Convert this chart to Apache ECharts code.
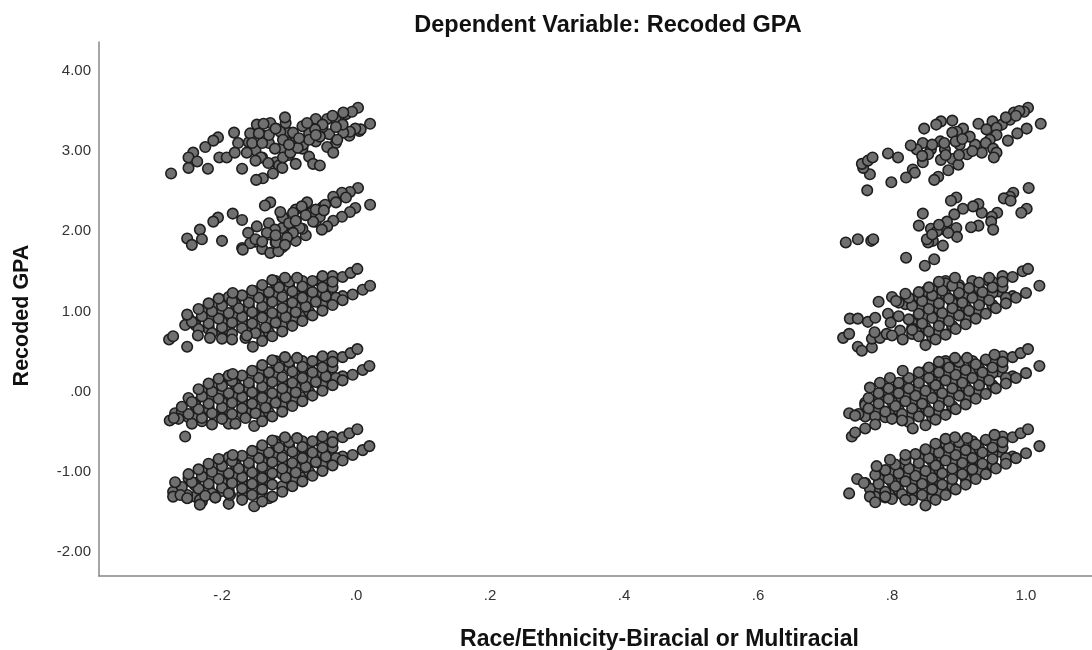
<!DOCTYPE html>
<html><head><meta charset="utf-8">
<style>html,body{margin:0;padding:0;background:#fff}#c{width:1092px;height:650px}</style>
<script src="https://cdn.jsdelivr.net/npm/echarts@6/dist/echarts.min.js"></script></head>
<body><div id="c"></div>
<script>
const xTicks=[-0.2,0,0.2,0.4,0.6,0.8,1.0];
const xTickLabels=['-.2','.0','.2','.4','.6','.8','1.0'];
const yTicks=[-2,-1,0,1,2,3,4];
const yTickLabels=['-2.00','-1.00','.00','1.00','2.00','3.00','4.00'];

const leftExtraLow=[[-.19,-1.4],[-.16,-1.27],[-.13,-1.14],[-.10,-1.01],[-.07,-.88],[-.04,-.75],
[-.23,-1.37],[-.2,-1.24],[-.17,-1.11],[-.14,-.98],[-.11,-.86],[-.08,-.73],[-.055,-.62],
[-.25,-1.32],[-.22,-1.19],[-.19,-1.06],[-.16,-.93],[-.13,-.8],[-.1,-.67],
[-.27,-1.27],[-.24,-1.14],[-.21,-1.01],[-.18,-.88],[-.15,-.75],[-.12,-.62],
[-.14,-1.32],[-.11,-1.2],[-.08,-1.07],[-.05,-.94],[-.02,-.81],[-.23,-1.0],[-.2,-.86]];
const leftExtraZero=[[-.19,-.40],[-.16,-.27],[-.13,-.14],[-.10,-.01],[-.07,.12],[-.04,.25],
[-.23,-.37],[-.2,-.24],[-.17,-.11],[-.14,.02],[-.11,.14],[-.08,.27],[-.055,.38],
[-.25,-.32],[-.22,-.19],[-.19,-.06],[-.16,.07],[-.13,.2],[-.1,.33],
[-.27,-.27],[-.24,-.14],[-.21,-.01],[-.18,.12],[-.15,.25],[-.12,.38],
[-.14,-.32],[-.11,-.2],[-.08,-.07],[-.05,.06],[-.02,.19],[-.23,0],[-.2,.14]];
const leftExtraOne=[[-.16,.73],[-.13,.86],[-.10,.99],[-.07,1.12],[-.04,1.25],
[-.2,.76],[-.17,.89],[-.14,1.02],[-.11,1.14],[-.08,1.27],[-.055,1.38],
[-.22,.81],[-.19,.94],[-.16,1.07],[-.13,1.2],[-.1,1.33],
[-.24,.86],[-.21,.99],[-.18,1.12],[-.15,1.25],[-.12,1.38],
[-.14,.68],[-.11,.8],[-.08,.93],[-.05,1.06],[-.02,1.19],[-.23,1.0],[-.2,1.14]];
const rightExtraLow=[[.84,-1.27],[.87,-1.14],[.9,-1.01],[.93,-.88],[.96,-.75],
[.8,-1.24],[.83,-1.11],[.86,-.98],[.89,-.86],[.92,-.73],[.945,-.62],
[.78,-1.19],[.81,-1.06],[.84,-.93],[.87,-.8],[.9,-.67],
[.76,-1.14],[.79,-1.01],[.82,-.88],[.85,-.75],[.88,-.62],
[.86,-1.32],[.89,-1.2],[.92,-1.07],[.95,-.94],[.98,-.81]];
const rightExtraZero=[[.84,-.27],[.87,-.14],[.9,-.01],[.93,.12],[.96,.25],
[.8,-.24],[.83,-.11],[.86,.02],[.89,.14],[.92,.27],[.945,.38],
[.78,-.19],[.81,-.06],[.84,.07],[.87,.2],[.9,.33],
[.76,-.14],[.79,-.01],[.82,.12],[.85,.25],[.88,.38],
[.86,-.32],[.89,-.2],[.92,-.07],[.95,.06],[.98,.19]];
const rightExtraOne=[[.84,.73],[.87,.86],[.9,.99],[.93,1.12],[.96,1.25],
[.83,.89],[.86,1.02],[.89,1.14],[.92,1.27],[.945,1.38],
[.84,1.07],[.87,1.2],[.9,1.33],[.85,1.25],[.88,1.38],
[.86,.68],[.89,.8],[.92,.93],[.95,1.06],[.98,1.19]];

const leftFillLow=[[-.13,-1.33],[-.11,-1.18],[-.09,-1.09],[-.07,-1.0],[-.05,-.92],[-.03,-.83],
[-.17,-1.28],[-.15,-1.2],[-.13,-1.11],[-.11,-1.03],[-.09,-.94],[-.07,-.85],[-.05,-.77],[-.035,-.70],
[-.21,-1.32],[-.19,-1.23],[-.17,-1.14],[-.15,-1.06],[-.13,-.97],[-.11,-.89],[-.09,-.8],[-.07,-.71],[-.05,-.63],[-.035,-.56],
[-.24,-1.31],[-.22,-1.22],[-.2,-1.13],[-.18,-1.05],[-.16,-.96],[-.14,-.87],[-.12,-.79],[-.10,-.7],[-.08,-.62],
[-.26,-1.25],[-.24,-1.17],[-.22,-1.08],[-.2,-.99],[-.18,-.91],[-.16,-.82],[-.14,-.73],[-.12,-.65],
[-.25,-1.08],[-.23,-.99],[-.21,-.91],[-.19,-.82]];
const leftFillZero=[[-.13,-.26],[-.11,-.18],[-.09,-.09],[-.07,0],[-.05,.08],[-.03,.17],
[-.17,-.28],[-.15,-.2],[-.13,-.11],[-.11,-.03],[-.09,.06],[-.07,.15],[-.05,.23],[-.035,.3],
[-.21,-.32],[-.19,-.23],[-.17,-.14],[-.15,-.06],[-.13,.03],[-.11,.11],[-.09,.2],[-.07,.29],[-.05,.37],[-.035,.44],
[-.24,-.31],[-.22,-.22],[-.2,-.13],[-.18,-.05],[-.16,.04],[-.14,.13],[-.12,.21],[-.10,.3],[-.08,.38],
[-.26,-.25],[-.24,-.17],[-.22,-.08],[-.2,.01],[-.18,.09],[-.16,.18],[-.14,.27],[-.12,.35],
[-.25,-.08],[-.23,.01],[-.21,.09],[-.19,.18]];
const leftFillOne=[[-.13,.74],[-.11,.82],[-.09,.91],[-.07,1.0],[-.05,1.08],[-.03,1.17],
[-.15,.8],[-.13,.89],[-.11,.97],[-.09,1.06],[-.07,1.15],[-.05,1.23],[-.035,1.3],
[-.19,.77],[-.17,.86],[-.15,.94],[-.13,1.03],[-.11,1.11],[-.09,1.2],[-.07,1.29],[-.05,1.37],[-.035,1.44],
[-.22,.78],[-.2,.87],[-.18,.95],[-.16,1.04],[-.14,1.13],[-.12,1.21],[-.10,1.3],[-.08,1.38],
[-.24,.83],[-.22,.92],[-.2,1.01],[-.18,1.09],[-.16,1.18],[-.14,1.27],[-.12,1.35],
[-.25,.92],[-.23,1.01],[-.21,1.09],[-.19,1.18]];
const leftFillTwo=[[-.11,1.8],[-.09,1.88],[-.075,1.95],[-.17,1.79],[-.15,1.87],[-.13,1.96],[-.11,2.04],[-.09,2.13],[-.07,2.22],[-.05,2.30],[-.03,2.39],
[-.14,1.78],[-.12,1.86],[-.1,1.95],[-.08,2.03],[-.06,2.12],[-.13,2.1],[-.11,2.18],[-.09,2.27]];
const leftFillThree=[[-.12,2.86],[-.1,2.95],[-.08,3.03],[-.06,3.12],[-.04,3.21],[-.14,2.92],[-.11,3.04],[-.09,3.13],[-.07,3.22],[-.05,3.30],[-.03,3.39],[-.015,3.46],
[-.09,2.84],[-.07,2.93],[-.03,3.10],[-.01,3.19],[.005,3.25],[-.15,3.01],[-.13,3.10],[-.1,3.23],[-.08,3.31],[-.06,3.4],[-.16,3.11],[-.14,3.2],[-.12,3.28],[-.105,3.35]];
const rightFillLow=[[.87,-1.26],[.89,-1.18],[.91,-1.09],[.93,-1.0],[.95,-.92],[.97,-.83],
[.83,-1.28],[.85,-1.2],[.87,-1.11],[.89,-1.03],[.91,-.94],[.93,-.85],[.95,-.77],[.965,-.70],
[.79,-1.32],[.81,-1.23],[.83,-1.14],[.85,-1.06],[.87,-.97],[.89,-.89],[.91,-.8],[.93,-.71],[.95,-.63],[.965,-.56],
[.78,-1.22],[.8,-1.13],[.82,-1.05],[.84,-.96],[.86,-.87],[.88,-.79],[.9,-.7],[.92,-.62],
[.78,-1.08],[.8,-.99],[.82,-.91],[.84,-.82],[.86,-.73],[.88,-.65]];
const rightFillZero=[[.87,-.26],[.89,-.18],[.91,-.09],[.93,0],[.95,.08],[.97,.17],
[.83,-.28],[.85,-.2],[.87,-.11],[.89,-.03],[.91,.06],[.93,.15],[.95,.23],[.965,.30],
[.79,-.32],[.81,-.23],[.83,-.14],[.85,-.06],[.87,.03],[.89,.11],[.91,.2],[.93,.29],[.95,.37],[.965,.44],
[.76,-.31],[.78,-.22],[.8,-.13],[.82,-.05],[.84,.04],[.86,.13],[.88,.21],[.9,.3],[.92,.38],
[.76,-.17],[.78,-.08],[.8,.01],[.82,.09],[.84,.18],[.86,.27],[.88,.35]];
const rightFillOne=[[.87,.74],[.89,.82],[.91,.91],[.93,1.0],[.95,1.08],[.97,1.17],
[.83,.72],[.85,.8],[.87,.89],[.89,.97],[.91,1.06],[.93,1.15],[.95,1.23],[.965,1.30],
[.83,.86],[.85,.94],[.87,1.03],[.89,1.11],[.91,1.2],[.93,1.29],[.95,1.37],[.965,1.44],
[.84,1.04],[.86,1.13],[.88,1.21],[.9,1.3],[.92,1.38],[.82,1.09],[.84,1.18],[.86,1.27],[.88,1.35]];

const leftBandLow=[[-.152,-1.43],[-.14,-1.37],[-.125,-1.31],[-.11,-1.25],[-.095,-1.18],[-.08,-1.12],[-.065,-1.05],[-.05,-.99],[-.035,-.92],[-.02,-.86],[-.005,-.79],[.01,-.73],[.02,-.68],
[-.17,-1.35],[-.155,-1.29],[-.14,-1.22],[-.125,-1.16],[-.105,-1.07],[-.09,-1.01],[-.075,-.94],[-.06,-.88],[-.045,-.81],
[-.188,-1.29],[-.17,-1.21],[-.155,-1.15],[-.14,-1.08],[-.125,-1.02],[-.11,-.96],[-.095,-.89],[-.08,-.83],[-.065,-.76],[-.05,-.70],[-.035,-.63],[-.02,-.57],[-.01,-.52],[.002,-.47],
[-.233,-1.35],[-.215,-1.27],[-.2,-1.2],[-.185,-1.14],[-.17,-1.07],[-.155,-1.01],[-.14,-.94],[-.125,-.88],[-.11,-.82],[-.095,-.75],[-.08,-.69],[-.065,-.62],[-.05,-.56],
[-.252,-1.29],[-.235,-1.21],[-.22,-1.15],[-.205,-1.09],[-.19,-1.02],[-.175,-.96],[-.16,-.89],[-.145,-.83],[-.13,-.76],[-.115,-.7],[-.1,-.63],[-.088,-.58],
[-.273,-1.25],[-.26,-1.19],[-.245,-1.13],[-.23,-1.06],[-.215,-1.0],[-.2,-.93],[-.185,-.87],[-.17,-.80],[-.155,-.74],[-.14,-.67],[-.125,-.61],[-.106,-.57],
[-.27,-1.13],[-.25,-1.03],[-.235,-.97],[-.22,-.9],[-.205,-.84],[-.184,-.79],
[-.273,-1.31],[-.262,-1.29],[-.252,-1.33],[-.233,-1.41],[-.225,-1.3],[-.21,-1.32],[-.19,-1.27]];

const leftBandZero=[[-.152,-.43],[-.14,-.37],[-.125,-.31],[-.11,-.25],[-.095,-.18],[-.08,-.12],[-.065,-.05],[-.05,.01],[-.035,.08],[-.02,.14],[-.005,.21],[.01,.27],[.02,.32],
[-.18,-.40],[-.165,-.33],[-.15,-.27],[-.135,-.20],[-.12,-.14],[-.105,-.07],[-.09,-.01],[-.075,.06],[-.06,.12],[-.045,.19],
[-.215,-.41],[-.2,-.34],[-.185,-.28],[-.17,-.21],[-.155,-.15],[-.14,-.08],[-.125,-.02],[-.11,.04],[-.095,.11],[-.08,.17],[-.065,.24],[-.05,.30],[-.035,.37],[-.02,.43],[-.008,.48],[.002,.53],
[-.245,-.40],[-.23,-.33],[-.215,-.27],[-.2,-.20],[-.185,-.14],[-.17,-.07],[-.155,-.01],[-.14,.06],[-.125,.12],[-.11,.18],[-.095,.25],[-.08,.31],[-.065,.38],[-.05,.44],
[-.265,-.34],[-.25,-.28],[-.235,-.22],[-.22,-.15],[-.205,-.09],[-.19,-.02],[-.175,.04],[-.16,.11],[-.145,.17],[-.13,.24],[-.115,.30],[-.10,.37],[-.088,.42],
[-.278,-.36],[-.272,-.33],[-.26,-.19],[-.245,-.13],[-.23,-.06],[-.215,0],[-.20,.07],[-.185,.13],[-.17,.20],[-.155,.26],[-.14,.33],[-.125,.39],[-.106,.43],
[-.235,.03],[-.22,.10],[-.205,.16],[-.19,.2],[-.184,.22],[-.255,-.56]];

const leftBandOne=[[-.154,.56],[-.14,.63],[-.125,.69],[-.11,.75],[-.095,.82],[-.08,.88],[-.065,.95],[-.05,1.01],[-.035,1.08],[-.02,1.14],[-.005,1.21],[.01,1.27],[.021,1.32],
[-.165,.67],[-.15,.73],[-.135,.8],[-.12,.86],[-.105,.93],[-.09,.99],[-.075,1.06],[-.06,1.12],[-.045,1.19],
[-.2,.66],[-.185,.72],[-.17,.79],[-.155,.85],[-.14,.92],[-.125,.98],[-.11,1.04],[-.095,1.11],[-.08,1.17],[-.065,1.24],[-.05,1.3],[-.035,1.37],[-.02,1.43],[-.008,1.48],[.002,1.53],
[-.215,.73],[-.2,.8],[-.185,.86],[-.17,.93],[-.155,.99],[-.14,1.06],[-.125,1.12],[-.11,1.18],[-.095,1.25],[-.08,1.31],[-.065,1.38],[-.05,1.44],
[-.235,.78],[-.22,.85],[-.205,.91],[-.19,.98],[-.175,1.04],[-.16,1.11],[-.145,1.17],[-.13,1.24],[-.115,1.3],[-.1,1.37],[-.088,1.42],
[-.255,.83],[-.245,.87],[-.23,.94],[-.215,1.0],[-.2,1.07],[-.185,1.13],[-.17,1.2],[-.155,1.26],[-.14,1.33],[-.125,1.39],[-.106,1.42],
[-.252,.96],[-.235,1.03],[-.22,1.1],[-.205,1.16],[-.184,1.23],
[-.279,.65],[-.273,.69],[-.252,.56],[-.236,.70],[-.218,.67],[-.185,.65],[-.163,.7]];

const leftBandTwo=[[.003,2.54],[-.009,2.49],[-.021,2.48],[-.034,2.43],[-.046,2.33],[.021,2.33],[-.001,2.29],[-.009,2.24],[-.021,2.18],[-.034,2.13],[-.043,2.06],[-.051,2.02],[-.054,2.18],[-.066,2.23],[-.073,2.36],[-.081,2.31],[-.094,2.23],[-.109,2.17],[-.113,2.24],[-.128,2.36],[-.136,2.32],[-.064,2.12],[-.084,2.04],[-.094,1.98],[-.103,1.92],[-.121,2.02],[-.133,1.98],[-.148,2.06],[-.161,1.98],[-.158,1.85],[-.169,1.77],[-.128,1.73],[-.116,1.75],[-.119,1.86],[-.106,1.83],[-.206,2.17],[-.213,2.12],[-.184,2.22],[-.17,2.14],[-.233,2.02],[-.23,1.9],[-.252,1.91],[-.245,1.83],[-.2,1.88],[-.15,1.9],[-.14,1.87],[-.12,1.95],[-.1,2.1],[-.09,2.13],[-.075,2.2],[-.06,2.27],[-.048,2.26],[-.03,2.36],[-.015,2.42]];

const leftBandThree=[[.003,3.54],[-.006,3.49],[-.019,3.48],[.021,3.34],[.007,3.27],[-.001,3.28],[-.009,3.24],[-.019,3.23],[-.028,3.14],[-.043,3.40],[-.035,3.44],[-.05,3.33],[-.061,3.27],[-.073,3.35],[-.054,3.18],[-.043,3.05],[-.034,2.98],[-.079,3.08],[-.094,3.23],[-.113,3.24],[-.106,3.42],[-.128,3.35],[-.148,3.33],[-.138,3.34],[-.158,3.22],[-.182,3.23],[-.176,3.10],[-.155,3.10],[-.14,3.10],[-.121,3.03],[-.094,3.03],[-.109,3.14],[-.206,3.17],[-.213,3.13],[-.225,3.05],[-.243,2.98],[-.25,2.92],[-.237,2.87],[-.25,2.79],[-.221,2.78],[-.276,2.72],[-.204,2.92],[-.193,2.92],[-.181,2.98],[-.163,2.98],[-.142,2.92],[-.17,2.78],[-.15,2.88],[-.131,2.85],[-.115,2.82],[-.124,2.72],[-.139,2.66],[-.149,2.64],[-.109,2.92],[-.098,2.98],[-.087,3.04],[-.064,2.84],[-.054,2.82],[-.11,2.79],[-.07,3.14],[-.06,3.2],[-.085,3.16],[-.1,3.08],[-.13,3.2],[-.12,3.28],[-.145,3.22],[-.02,3.33],[-.03,3.3]];

const rightBandLow=[[.85,-1.42],[.865,-1.35],[.88,-1.29],[.895,-1.22],[.91,-1.16],[.925,-1.09],[.94,-1.03],[.955,-.96],[.97,-.9],[.985,-.83],[1.0,-.77],[1.02,-.68],
[.83,-1.35],[.845,-1.29],[.86,-1.22],[.875,-1.16],[.89,-1.09],[.905,-1.03],[.92,-.97],[.935,-.9],[.95,-.84],
[.8,-1.34],[.815,-1.28],[.83,-1.21],[.845,-1.15],[.86,-1.08],[.875,-1.02],[.89,-.96],[.905,-.89],[.92,-.83],[.935,-.76],[.95,-.70],[.965,-.63],[.98,-.57],[.992,-.52],[1.003,-.47],
[.775,-1.31],[.79,-1.25],[.805,-1.18],[.82,-1.12],[.835,-1.05],[.85,-.99],[.865,-.92],[.88,-.86],[.895,-.79],[.91,-.73],[.925,-.66],[.94,-.6],[.953,-.54],
[.767,-1.21],[.78,-1.15],[.795,-1.09],[.81,-1.02],[.825,-.96],[.84,-.89],[.855,-.83],[.87,-.76],[.885,-.70],[.9,-.63],[.912,-.58],
[.775,-1.04],[.79,-.98],[.805,-.91],[.82,-.85],[.835,-.78],[.85,-.72],[.865,-.65],[.88,-.59],[.894,-.57],
[.736,-1.27],[.748,-1.09],[.758,-1.14],[.777,-.93],[.797,-.85],[.82,-.79],[.767,-1.31],[.775,-1.38],[.79,-1.31],[.82,-1.35]];

const rightBandZero=[[.85,-.42],[.865,-.35],[.88,-.29],[.895,-.22],[.91,-.16],[.925,-.09],[.94,-.03],[.955,.04],[.97,.1],[.985,.17],[1.0,.23],[1.02,.32],
[.825,-.38],[.84,-.31],[.855,-.25],[.87,-.18],[.885,-.12],[.9,-.05],[.915,.01],[.93,.08],[.945,.14],
[.8,-.34],[.815,-.28],[.83,-.21],[.845,-.15],[.86,-.08],[.875,-.02],[.89,.04],[.905,.11],[.92,.17],[.935,.24],[.95,.3],[.965,.37],[.98,.43],[.992,.48],[1.003,.53],
[.775,-.31],[.79,-.25],[.805,-.18],[.82,-.12],[.835,-.05],[.85,.01],[.865,.08],[.88,.14],[.895,.21],[.91,.27],[.925,.34],[.94,.4],[.953,.46],
[.75,-.28],[.765,-.21],[.78,-.15],[.795,-.09],[.81,-.02],[.825,.04],[.84,.11],[.855,.17],[.87,.24],[.885,.3],[.9,.37],[.912,.42],
[.765,-.08],[.78,-.02],[.795,.04],[.81,.11],[.825,.17],[.84,.24],[.855,.3],[.87,.37],[.894,.42],
[.767,.05],[.782,.11],[.797,.17],[.816,.26],
[.74,-.56],[.736,-.27],[.745,-.3],[.76,-.46],[.775,-.41],[.745,-.51],[.831,-.46],[.815,-.36]];

const rightBandOne=[[.85,.58],[.865,.65],[.88,.71],[.895,.78],[.91,.84],[.925,.91],[.94,.97],[.955,1.04],[.97,1.10],[.985,1.17],[1.0,1.23],[1.02,1.32],
[.84,.69],[.855,.75],[.87,.82],[.885,.88],[.90,.95],[.915,1.01],[.93,1.08],[.945,1.14],
[.83,.79],[.845,.85],[.86,.92],[.875,.98],[.89,1.04],[.905,1.11],[.92,1.17],[.935,1.24],[.95,1.30],[.965,1.37],[.98,1.43],[.995,1.50],[1.003,1.53],
[.825,.90],[.84,.97],[.855,1.03],[.87,1.10],[.885,1.16],[.90,1.23],[.915,1.29],[.93,1.36],[.945,1.42],
[.83,1.07],[.845,1.13],[.86,1.20],[.875,1.26],[.89,1.32],[.894,1.42],[.81,1.11],[.825,1.17],[.84,1.24],[.855,1.30],[.87,1.37],
[.727,.67],[.736,.72],[.737,.91],[.749,.91],[.764,.87],[.775,.92],[.78,1.12],[.80,1.18],[.806,1.13],[.82,1.22],[.794,.97],[.749,.56],[.755,.51],[.77,.55],[.77,.66],[.782,.67],[.792,.72],[.812,.76],[.816,.65],[.83,.77],[.798,.86],[.81,.94],[.774,.74],[.8,.7]];

const rightBandTwo=[[1.004,2.54],[.981,2.48],[.976,2.43],[.967,2.41],[.977,2.38],[1.001,2.28],[.993,2.23],[.957,2.23],[.949,2.18],[.948,2.12],[.951,2.02],[.934,2.23],[.929,2.34],[.921,2.31],[.929,2.07],[.918,2.05],[.906,2.28],[.896,2.42],[.888,2.38],[.893,2.21],[.846,2.22],[.84,2.07],[.858,2.03],[.879,2.02],[.896,2.04],[.897,1.93],[.882,2.12],[.884,1.98],[.867,2.0],[.876,1.82],[.861,1.88],[.854,1.86],[.852,1.9],[.731,1.86],[.749,1.9],[.769,1.88],[.772,1.9],[.821,1.67],[.863,1.65],[.849,1.57],[.87,2.08],[.86,1.96]];

const rightBandThree=[[1.003,3.54],[.997,3.49],[.982,3.48],[1.022,3.34],[1.001,3.28],[.987,3.22],[.973,3.13],[.976,3.39],[.964,3.33],[.95,3.37],[.929,3.34],[.941,3.27],[.956,3.29],[.956,3.20],[.946,3.14],[.94,3.10],[.951,3.03],[.956,2.98],[.952,2.92],[.934,2.98],[.924,3.08],[.916,3.18],[.912,2.96],[.906,3.28],[.897,3.24],[.89,3.23],[.89,3.38],[.873,3.37],[.866,3.33],[.848,3.28],[.872,3.12],[.901,3.08],[.879,3.02],[.858,3.02],[.846,3.10],[.837,3.02],[.828,3.07],[.854,2.96],[.873,2.89],[.89,2.90],[.899,2.83],[.884,2.76],[.869,2.68],[.863,2.64],[.846,2.86],[.831,2.77],[.834,2.73],[.821,2.67],[.799,2.61],[.763,2.51],[.767,2.71],[.757,2.79],[.755,2.84],[.764,2.88],[.771,2.92],[.794,2.97],[.809,2.92],[.99,3.5],[.97,3.42],[.985,3.44],[.86,3.08],[.845,2.94],[.9,2.95],[.895,3.12],[.878,3.1],[.905,3.15],[.92,3.0],[.88,2.95]];

const points=[].concat(leftExtraLow,leftExtraZero,leftExtraOne,rightExtraLow,rightExtraZero,rightExtraOne,leftFillLow,leftFillZero,leftFillOne,leftFillTwo,leftFillThree,rightFillLow,rightFillZero,rightFillOne,leftBandLow,leftBandZero,leftBandOne,leftBandTwo,leftBandThree,rightBandLow,rightBandZero,rightBandOne,rightBandTwo,rightBandThree);

const chart=echarts.init(document.getElementById('c'),null,{renderer:'canvas'});
const font='"Liberation Sans",Arial,sans-serif';
const fmt=(ticks,labels)=>v=>{const i=ticks.findIndex(t=>Math.abs(t-v)<1e-6);return i<0?'':labels[i];};
chart.setOption({
  animation:false,backgroundColor:'#fff',
  title:{text:'Dependent Variable: Recoded GPA',left:603,top:9,textAlign:'center',
    textStyle:{fontFamily:font,fontSize:23.5,fontWeight:'bold',color:'#111'}},
  grid:{left:99,right:0,top:42,bottom:74,outerBoundsMode:'none'},
  xAxis:{type:'value',min:-0.3836,max:1.0985,
    name:'Race/Ethnicity-Biracial or Multiracial',nameLocation:'middle',nameGap:52,
    nameTextStyle:{fontFamily:font,fontSize:23,fontWeight:'bold',color:'#111',padding:[0,0,0,128]},
    splitLine:{show:false},axisTick:{show:false},
    axisLine:{onZero:false,lineStyle:{color:'#888',width:1.5}},
    axisLabel:{customValues:xTicks,formatter:fmt(xTicks,xTickLabels),fontFamily:font,fontSize:15,color:'#333',margin:12}},
  yAxis:{type:'value',min:-2.3,max:4.36,
    name:'Recoded GPA',nameLocation:'middle',nameGap:66,
    nameTextStyle:{fontFamily:font,fontSize:21.5,fontWeight:'bold',color:'#111',padding:[0,13,0,0]},
    splitLine:{show:false},axisTick:{show:false},
    axisLine:{onZero:false,lineStyle:{color:'#888',width:1.5}},
    axisLabel:{customValues:yTicks,formatter:fmt(yTicks,yTickLabels),fontFamily:font,fontSize:15,color:'#333',margin:8}},
  series:[{type:'scatter',data:points,symbol:'circle',symbolSize:10.5,silent:true,
    itemStyle:{color:'#707070',borderColor:'#1e1e1e',borderWidth:1.6,opacity:1}}]
});
</script></body></html>
